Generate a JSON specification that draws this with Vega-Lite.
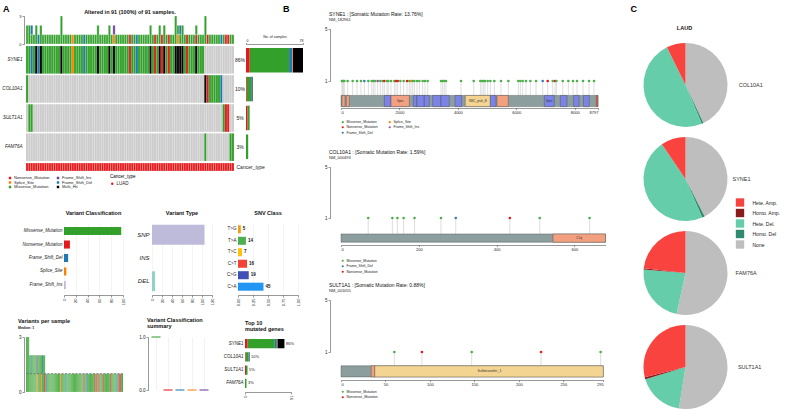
{
"$schema": "https://vega.github.io/schema/vega-lite/v6.json",
"padding": {"left": 1, "top": 5, "right": 0, "bottom": 0},
"config": {
  "font": "Liberation Sans",
  "view": {"stroke": null},
  "axis": {"labelFontSize": 4.5, "titleFontSize": 4.5, "titleFontWeight": "normal", "labelColor": "#222", "titleColor": "#222", "domainColor": "#333", "tickColor": "#333", "tickSize": 2, "domainWidth": 0.5, "tickWidth": 0.5, "labelPadding": 1, "grid": false},
  "title": {"fontSize": 5.5, "fontWeight": "bold", "color": "#111", "subtitleFontSize": 4, "subtitleColor": "#222", "subtitlePadding": 1},
  "legend": {"labelFontSize": 4.5, "titleFontSize": 4.5, "titleFontWeight": "normal", "labelColor": "#222", "symbolSize": 8, "symbolType": "square", "symbolStrokeWidth": 0, "rowPadding": 1, "columnPadding": 6, "labelOffset": 2, "padding": 0}
},
"datasets": {
  "cls": [{"c":"N","name":"Nonsense_Mutation","o":1},{"c":"M","name":"Missense_Mutation","o":2},{"c":"D","name":"Frame_Shift_Del","o":3},{"c":"S","name":"Splice_Site","o":4},{"c":"I","name":"Frame_Shift_Ins","o":5},{"c":"H","name":"Multi_Hit","o":6}],
  "cnvt": [{"t":"Hete. Amp.","o":1},{"t":"Homo. Amp.","o":2},{"t":"Hete. Del.","o":3},{"t":"Homo. Del","o":4},{"t":"None","o":5}],
  "samples": [
{"s":1,"SYNE1":"M","COL10A1":"M","M":2},
{"s":2,"SYNE1":"M","SULT1A1":"M","M":2},
{"s":3,"SYNE1":"D","SULT1A1":"M","D":1,"M":1},
{"s":4,"SYNE1":"M","M":1},
{"s":5,"SYNE1":"H","M":2},
{"s":6,"SYNE1":"D","D":1},
{"s":7,"SYNE1":"H","M":2},
{"s":8,"SYNE1":"M","M":1},
{"s":9,"SYNE1":"M","M":1},
{"s":10,"SYNE1":"M","M":1},
{"s":11,"SYNE1":"M","M":1},
{"s":12,"SYNE1":"M","M":1},
{"s":13,"SYNE1":"M","M":1},
{"s":14,"SYNE1":"M","M":1},
{"s":15,"SYNE1":"M","M":1},
{"s":16,"SYNE1":"H","M":3},
{"s":17,"SYNE1":"M","M":1},
{"s":18,"SYNE1":"M","M":1},
{"s":19,"SYNE1":"M","M":1},
{"s":20,"SYNE1":"M","M":1},
{"s":21,"SYNE1":"S","S":1},
{"s":22,"SYNE1":"M","M":1},
{"s":23,"SYNE1":"M","M":1},
{"s":24,"SYNE1":"M","M":1},
{"s":25,"SYNE1":"M","M":1},
{"s":26,"SYNE1":"D","D":1},
{"s":27,"SYNE1":"M","M":1},
{"s":28,"SYNE1":"M","M":1},
{"s":29,"SYNE1":"M","M":1},
{"s":30,"SYNE1":"M","M":1},
{"s":31,"SYNE1":"M","M":1},
{"s":32,"SYNE1":"H","M":2},
{"s":33,"SYNE1":"M","M":1},
{"s":34,"SYNE1":"M","M":1},
{"s":35,"SYNE1":"M","M":1},
{"s":36,"SYNE1":"M","M":1},
{"s":37,"SYNE1":"H","M":2},
{"s":38,"SYNE1":"M","M":1},
{"s":39,"SYNE1":"H","I":1,"S":1},
{"s":40,"SYNE1":"M","M":1},
{"s":41,"SYNE1":"M","M":1},
{"s":42,"SYNE1":"M","M":1},
{"s":43,"SYNE1":"M","M":1},
{"s":44,"SYNE1":"M","M":1},
{"s":45,"SYNE1":"M","M":1},
{"s":46,"SYNE1":"N","N":1},
{"s":47,"SYNE1":"M","M":1},
{"s":48,"SYNE1":"M","M":1},
{"s":49,"SYNE1":"D","D":1},
{"s":50,"SYNE1":"M","M":1},
{"s":51,"SYNE1":"M","M":1},
{"s":52,"SYNE1":"M","M":1},
{"s":53,"SYNE1":"M","M":1},
{"s":54,"SYNE1":"M","M":1},
{"s":55,"SYNE1":"H","M":2},
{"s":56,"SYNE1":"M","M":1},
{"s":57,"SYNE1":"N","N":1},
{"s":58,"SYNE1":"M","M":1},
{"s":59,"SYNE1":"H","M":2},
{"s":60,"SYNE1":"N","N":1},
{"s":61,"SYNE1":"H","M":2},
{"s":62,"SYNE1":"M","M":1},
{"s":63,"SYNE1":"N","N":1},
{"s":64,"SYNE1":"M","M":1},
{"s":65,"SYNE1":"M","M":1},
{"s":66,"SYNE1":"H","M":3},
{"s":67,"SYNE1":"H","M":1,"S":1},
{"s":68,"SYNE1":"H","M":1,"D":1},
{"s":69,"SYNE1":"H","M":2},
{"s":70,"SYNE1":"M","M":1},
{"s":71,"SYNE1":"N","N":1},
{"s":72,"SYNE1":"M","M":1},
{"s":73,"SYNE1":"M","M":1},
{"s":74,"SYNE1":"M","M":1},
{"s":75,"SYNE1":"H","M":1,"N":1},
{"s":76,"SYNE1":"M","M":1},
{"s":77,"SYNE1":"M","M":1},
{"s":78,"SYNE1":"M","M":1},
{"s":79,"COL10A1":"H","FAM76A":"M","M":3},
{"s":80,"COL10A1":"N","N":1},
{"s":81,"COL10A1":"M","M":1},
{"s":82,"COL10A1":"M","M":1},
{"s":83,"COL10A1":"M","M":1},
{"s":84,"COL10A1":"M","M":1},
{"s":85,"COL10A1":"M","M":1},
{"s":86,"COL10A1":"D","D":1},
{"s":87,"SULT1A1":"M","M":1},
{"s":88,"SULT1A1":"N","N":1},
{"s":89,"SULT1A1":"N","N":1},
{"s":90,"FAM76A":"M","M":1},
{"s":91,"FAM76A":"M","M":1}
  ],
  "genes": [{"gene":"SYNE1","n":78,"pct":"86%"},{"gene":"COL10A1","n":9,"pct":"10%"},{"gene":"SULT1A1","n":5,"pct":"5%"},{"gene":"FAM76A","n":3,"pct":"3%"}],
  "vc": [{"k":"Missense_Mutation","n":97},{"k":"Nonsense_Mutation","n":10},{"k":"Frame_Shift_Del","n":7},{"k":"Splice_Site","n":4},{"k":"Frame_Shift_Ins","n":3}],
  "vt": [{"k":"SNP","n":105},{"k":"INS","n":0.4},{"k":"DEL","n":6}],
  "snv": [{"k":"T>G","n":5,"f":0.047},{"k":"T>A","n":14,"f":0.132},{"k":"T>C","n":7,"f":0.066},{"k":"C>T","n":16,"f":0.151},{"k":"C>G","n":19,"f":0.179},{"k":"C>A","n":45,"f":0.425}],
  "vcs": [{"k":"Missense_Mutation","v":1},{"k":"Nonsense_Mutation","v":0},{"k":"Frame_Shift_Del","v":0},{"k":"Splice_Site","v":0},{"k":"Frame_Shift_Ins","v":0}],
  "l1": [
{"p":30,"c":"M","n":1},{"p":60,"c":"M","n":1},{"p":80,"c":"M","n":1},{"p":115,"c":"M","n":1},{"p":228,"c":"M","n":1},{"p":399,"c":"M","n":1},{"p":548,"c":"M","n":1},{"p":685,"c":"M","n":1},{"p":799,"c":"D","n":1},{"p":936,"c":"M","n":1},{"p":1050,"c":"M","n":1},{"p":1107,"c":"M","n":1},{"p":1164,"c":"M","n":1},{"p":1255,"c":"I","n":1},{"p":1346,"c":"M","n":1},{"p":1426,"c":"M","n":1},{"p":1483,"c":"N","n":1},{"p":1575,"c":"M","n":1},{"p":1620,"c":"M","n":1},{"p":1712,"c":"M","n":1},{"p":1826,"c":"M","n":1},{"p":1883,"c":"N","n":1},{"p":1940,"c":"N","n":1},{"p":2031,"c":"M","n":1},{"p":2145,"c":"M","n":1},{"p":2260,"c":"N","n":1},{"p":2339,"c":"M","n":1},{"p":2396,"c":"S","n":1},{"p":2453,"c":"M","n":1},{"p":2510,"c":"M","n":1},{"p":2602,"c":"M","n":1},{"p":2682,"c":"M","n":1},{"p":2796,"c":"M","n":1},{"p":2876,"c":"M","n":1},{"p":2967,"c":"M","n":1},{"p":3423,"c":"M","n":1},{"p":3480,"c":"M","n":1},{"p":3537,"c":"M","n":1},{"p":3595,"c":"M","n":1},{"p":4108,"c":"M","n":1},{"p":4542,"c":"M","n":1},{"p":4770,"c":"M","n":1},{"p":4827,"c":"M","n":1},{"p":4885,"c":"M","n":1},{"p":4930,"c":"M","n":1},{"p":5021,"c":"M","n":1},{"p":5112,"c":"M","n":1},{"p":5249,"c":"M","n":1},{"p":5477,"c":"M","n":1},{"p":5728,"c":"M","n":1},{"p":6070,"c":"M","n":1},{"p":6139,"c":"M","n":1},{"p":6219,"c":"M","n":1},{"p":6333,"c":"M","n":1},{"p":6481,"c":"M","n":1},{"p":6676,"c":"M","n":1},{"p":6904,"c":"D","n":1},{"p":7076,"c":"N","n":1},{"p":7247,"c":"M","n":1},{"p":7326,"c":"N","n":1},{"p":7372,"c":"M","n":1},{"p":7590,"c":"M","n":1},{"p":7782,"c":"M","n":1},{"p":7942,"c":"M","n":1},{"p":8079,"c":"M","n":1},{"p":8285,"c":"M","n":1},{"p":8490,"c":"M","n":1},{"p":8661,"c":"M","n":1}
  ],
  "l2": [{"p":70,"c":"M","n":1},{"p":132,"c":"M","n":1},{"p":145,"c":"M","n":1},{"p":161,"c":"M","n":1},{"p":189,"c":"M","n":1},{"p":257,"c":"M","n":1},{"p":295,"c":"D","n":1},{"p":434,"c":"N","n":1},{"p":511,"c":"M","n":1},{"p":639,"c":"M","n":1}],
  "l3": [{"p":60,"c":"M","n":1},{"p":91,"c":"N","n":1},{"p":147,"c":"M","n":1},{"p":225,"c":"N","n":1},{"p":292,"c":"M","n":1}],
  "d1": [
{"a":0,"b":8797,"t":"protein"},{"a":34,"b":137,"t":"CH"},{"a":183,"b":285,"t":"CH"},{"a":1483,"b":1712,"t":"Spectrin"},{"a":1712,"b":2340,"t":"CH","lab":"Spec","m":2030},{"a":2475,"b":2600,"t":"Spectrin"},{"a":2600,"b":2850,"t":"Spectrin"},{"a":2850,"b":3023,"t":"Spectrin"},{"a":3138,"b":3420,"t":"Spectrin"},{"a":3420,"b":3707,"t":"Spectrin"},{"a":3903,"b":4131,"t":"Spectrin"},{"a":4255,"b":5112,"t":"SMC_prok_B","lab":"SMC_prok_B","m":4680},{"a":5112,"b":5306,"t":"Spectrin"},{"a":5340,"b":5727,"t":"CH"},{"a":6960,"b":7302,"t":"Spectrin","lab":"Spec","m":7130},{"a":7508,"b":7737,"t":"Spectrin"},{"a":7960,"b":8150,"t":"Spectrin"},{"a":8300,"b":8500,"t":"Spectrin"},{"a":8740,"b":8797,"t":"KASH"}
  ],
  "d2": [{"a":0,"b":680,"t":"protein"},{"a":545,"b":680,"t":"C1q","lab":"C1q","m":612}],
  "d3": [{"a":0,"b":295,"t":"protein"},{"a":34,"b":38,"t":"CH"},{"a":38,"b":295,"t":"Sulfotransfer_1","lab":"Sulfotransfer_1","m":167}],
  "cnv": [
{"g":"COL10A1","t":"None","p":43},{"g":"COL10A1","t":"Homo. Del","p":0.7},{"g":"COL10A1","t":"Hete. Del.","p":49},{"g":"COL10A1","t":"Hete. Amp.","p":7.3},
{"g":"SYNE1","t":"None","p":42.5},{"g":"SYNE1","t":"Homo. Del","p":1},{"g":"SYNE1","t":"Hete. Del.","p":47},{"g":"SYNE1","t":"Hete. Amp.","p":9.5},
{"g":"FAM76A","t":"None","p":53.4},{"g":"FAM76A","t":"Hete. Del.","p":22.9},{"g":"FAM76A","t":"Homo. Amp.","p":0.5},{"g":"FAM76A","t":"Hete. Amp.","p":23.2},
{"g":"SULT1A1","t":"None","p":52.5},{"g":"SULT1A1","t":"Hete. Del.","p":17.8},{"g":"SULT1A1","t":"Homo. Amp.","p":0.8},{"g":"SULT1A1","t":"Hete. Amp.","p":28.9}
  ]
},
"spacing": 315,
"bounds": "flush",
"resolve": {"scale": {"color": "independent", "fill": "independent"}, "legend": {"color": "independent", "fill": "independent"}},
"hconcat": [
 {
  "spacing": -1, "bounds": "flush",
  "resolve": {"scale": {"color": "independent", "fill": "independent"}, "legend": {"color": "independent", "fill": "independent"}},
  "vconcat": [
  {"width": 1, "height": 1, "title": {"text": "A", "anchor": "start", "dx": -23, "offset": 1, "fontSize": 9, "color": "#000"}, "data": {"values": []}, "mark": "point"},
  {
  "spacing": 207, "bounds": "flush",
  "resolve": {"scale": {"color": "independent", "fill": "independent"}, "legend": {"color": "independent", "fill": "independent"}},
  "vconcat": [
   {
    "spacing": 209, "bounds": "flush",
    "resolve": {"scale": {"color": "independent", "fill": "independent"}, "legend": {"color": "independent", "fill": "independent"}},
    "hconcat": [
     {
      "spacing": 2, "bounds": "flush",
      "resolve": {"scale": {"color": "independent", "fill": "independent"}, "legend": {"color": "independent", "fill": "independent"}},
      "vconcat": [
       {
        "width": 208, "height": 28,
        "title": {"text": "Altered in 91 (100%) of 91 samples.", "offset": -1, "fontSize": 5.5},
        "data": {"name": "samples"},
        "transform": [
          {"fold": ["N","M","D","S","I"], "as": ["c","n"]},
          {"filter": {"field": "n", "gt": 0}},
          {"lookup": "c", "from": {"data": {"name": "cls"}, "key": "c", "fields": ["name"]}}
        ],
        "mark": {"type": "bar", "stroke": "white", "strokeWidth": 0.3},
        "encoding": {
          "x": {"field": "s", "type": "ordinal", "axis": null, "scale": {"paddingInner": 0, "paddingOuter": 0}},
          "y": {"field": "n", "aggregate": "sum", "type": "quantitative", "scale": {"domain": [0,3], "nice": false}, "axis": {"values": [0,3], "title": null, "labelFontSize": 4, "offset": 2, "tickSize": 2}},
          "color": {"field": "name", "type": "nominal", "scale": {"domain": ["Frame_Shift_Del","Frame_Shift_Ins","Missense_Mutation","Nonsense_Mutation","Splice_Site"], "range": ["#1F78B4","#6A3D9A","#33A02C","#E31A1C","#FF7F00"]}, "legend": null}
        }
       },
       {
        "width": 208, "height": 115,
        "data": {"name": "samples"},
        "transform": [
          {"fold": ["SYNE1","COL10A1","SULT1A1","FAM76A"], "as": ["gene","c"]},
          {"lookup": "c", "from": {"data": {"name": "cls"}, "key": "c", "fields": ["name"]}, "default": "None"}
        ],
        "mark": {"type": "rect", "stroke": "white", "strokeWidth": 0.12},
        "encoding": {
          "x": {"field": "s", "type": "ordinal", "axis": null},
          "y": {"field": "gene", "type": "nominal", "sort": ["SYNE1","COL10A1","SULT1A1","FAM76A"], "scale": {"paddingInner": 0.05, "paddingOuter": 0}, "axis": {"title": null, "ticks": false, "tickSize": 0, "domain": false, "labelFontStyle": "italic", "labelFontSize": 4.6, "labelPadding": 4}},
          "color": {"field": "name", "type": "nominal", "scale": {"domain": ["Nonsense_Mutation","Splice_Site","Missense_Mutation","Frame_Shift_Ins","Frame_Shift_Del","Multi_Hit","None"], "range": ["#E31A1C","#FF7F00","#33A02C","#6A3D9A","#1F78B4","#000000","#CCCCCC"]}, "legend": {"values": ["Nonsense_Mutation","Splice_Site","Missense_Mutation","Frame_Shift_Ins","Frame_Shift_Del","Multi_Hit"], "title": null, "orient": "none", "legendX": -18, "legendY": 130, "columns": 2, "symbolSize": 6, "labelFontSize": 4, "rowPadding": 0.5, "columnPadding": 6}}
        }
       },
       {
        "width": 208, "height": 8,
        "data": {"name": "samples"},
        "mark": {"type": "rect", "stroke": "white", "strokeWidth": 0.2},
        "encoding": {
          "x": {"field": "s", "type": "ordinal", "axis": null},
          "y": {"datum": "Cancer_type", "type": "nominal", "axis": {"orient": "right", "title": null, "ticks": false, "tickSize": 0, "domain": false, "labelFontSize": 5, "labelPadding": 2}},
          "color": {"datum": "LUAD", "type": "nominal", "scale": {"domain": ["LUAD"], "range": ["#E31A1C"]}, "legend": {"title": "Cancer_type", "orient": "none", "legendX": 84, "legendY": 11, "symbolType": "circle", "symbolSize": 6, "titleFontSize": 4.5, "labelFontSize": 4.5, "titlePadding": 3}}
        }
       }
      ]
     },
     {
      "spacing": 2, "bounds": "flush",
      "resolve": {"scale": {"color": "independent", "fill": "independent"}, "legend": {"color": "independent", "fill": "independent"}},
      "vconcat": [
       {"width": 1, "height": 28, "data": {"values": []}, "mark": "point"},
       {
        "spacing": 1, "bounds": "flush",
        "resolve": {"scale": {"color": "independent", "fill": "independent"}, "legend": {"color": "independent", "fill": "independent"}},
        "hconcat": [
         {
          "width": 10, "height": 115,
          "data": {"name": "genes"},
          "mark": {"type": "text", "fontSize": 5, "color": "#222"},
          "encoding": {
            "y": {"field": "gene", "type": "nominal", "sort": ["SYNE1","COL10A1","SULT1A1","FAM76A"], "axis": null},
            "text": {"field": "pct"}
          }
         },
         {
          "width": 57, "height": 115,
          "data": {"name": "samples"},
          "transform": [
            {"fold": ["SYNE1","COL10A1","SULT1A1","FAM76A"], "as": ["gene","c"]},
            {"lookup": "c", "from": {"data": {"name": "cls"}, "key": "c", "fields": ["name","o"]}},
            {"filter": "datum.name"}
          ],
          "mark": {"type": "bar"},
          "encoding": {
            "y": {"field": "gene", "type": "nominal", "sort": ["SYNE1","COL10A1","SULT1A1","FAM76A"], "axis": null, "scale": {"paddingInner": 0.15, "paddingOuter": 0.07}},
            "x": {"aggregate": "count", "type": "quantitative", "scale": {"domain": [0,78], "nice": false}, "axis": {"orient": "top", "values": [0,78], "title": "No. of samples", "titleFontSize": 3.5, "labelFontSize": 3.5, "titlePadding": 0, "offset": 2, "tickSize": 1.5, "labelPadding": 0.5}},
            "color": {"field": "name", "type": "nominal", "scale": {"domain": ["Nonsense_Mutation","Missense_Mutation","Frame_Shift_Del","Splice_Site","Frame_Shift_Ins","Multi_Hit"], "range": ["#E31A1C","#33A02C","#1F78B4","#FF7F00","#6A3D9A","#000000"]}, "legend": null},
            "order": {"field": "o", "type": "quantitative"}
          }
         }
        ]
       }
      ]
     }
    ]
   },
   {
    "spacing": 114, "bounds": "flush",
    "resolve": {"scale": {"color": "independent", "fill": "independent"}, "legend": {"color": "independent", "fill": "independent"}},
    "vconcat": [
     {
      "spacing": 29, "bounds": "flush",
      "resolve": {"scale": {"color": "independent", "fill": "independent"}, "legend": {"color": "independent", "fill": "independent"}},
      "hconcat": [
       {"width": 9, "height": 1, "data": {"values": []}, "mark": "point"},
       {
        "width": 59, "height": 70,
        "title": {"text": "Variant Classification", "offset": 7},
        "data": {"name": "vc"},
        "mark": {"type": "bar"},
        "encoding": {
          "y": {"field": "k", "type": "nominal", "sort": null, "scale": {"paddingInner": 0.4, "paddingOuter": 0.3}, "axis": {"title": null, "ticks": false, "domain": false, "labelFontStyle": "italic", "labelFontSize": 4.5, "labelPadding": 2}},
          "x": {"field": "n", "type": "quantitative", "scale": {"domain": [0,100], "nice": false}, "axis": {"values": [0,20,40,60,80,100], "title": null, "labelAngle": -90, "labelFontSize": 4, "grid": true, "gridColor": "#EBEBEB", "gridWidth": 0.5, "offset": 2}},
          "color": {"field": "k", "type": "nominal", "scale": {"domain": ["Missense_Mutation","Nonsense_Mutation","Frame_Shift_Del","Splice_Site","Frame_Shift_Ins"], "range": ["#33A02C","#E31A1C","#1F78B4","#FF7F00","#C9B6DB"]}, "legend": null}
        }
       },
       {
        "spacing": 26, "bounds": "flush",
        "resolve": {"scale": {"color": "independent", "fill": "independent"}, "legend": {"color": "independent", "fill": "independent"}},
        "hconcat": [
         {
          "width": 60, "height": 70,
          "title": {"text": "Variant Type", "offset": 7},
          "data": {"name": "vt"},
          "mark": {"type": "bar"},
          "encoding": {
            "y": {"field": "k", "type": "nominal", "sort": null, "scale": {"paddingInner": 0.15, "paddingOuter": 0.08}, "axis": {"title": null, "ticks": false, "domain": false, "labelFontStyle": "italic", "labelFontSize": 6, "labelPadding": 3}},
            "x": {"field": "n", "type": "quantitative", "scale": {"domain": [0,120], "nice": false}, "axis": {"values": [0,20,40,60,80,100,120], "title": null, "labelAngle": -90, "labelFontSize": 4, "grid": true, "gridColor": "#EBEBEB", "gridWidth": 0.5, "offset": 2}},
            "color": {"field": "k", "type": "nominal", "scale": {"domain": ["SNP","INS","DEL"], "range": ["#BEBADA","#FFFFB3","#8DD3C7"]}, "legend": null}
          }
         },
         {
          "width": 60, "height": 70,
          "title": {"text": "SNV Class", "offset": 7},
          "data": {"name": "snv"},
          "encoding": {
            "y": {"field": "k", "type": "nominal", "sort": null, "scale": {"paddingInner": 0.3, "paddingOuter": 0.2}, "axis": {"title": null, "ticks": false, "domain": false, "labelFontSize": 4.5, "labelPadding": 2}},
            "x": {"field": "f", "type": "quantitative", "scale": {"domain": [0,1], "nice": false}, "axis": {"values": [0,0.25,0.5,0.75,1], "format": ".2f", "title": null, "labelAngle": -90, "labelFontSize": 4, "grid": true, "gridColor": "#EBEBEB", "gridWidth": 0.5, "offset": 2}}
          },
          "layer": [
            {"mark": {"type": "bar"}, "encoding": {"color": {"field": "k", "type": "nominal", "scale": {"domain": ["T>G","T>A","T>C","C>T","C>G","C>A"], "range": ["#F39C12","#4CAF50","#FFC107","#F44336","#3F51B5","#2196F3"]}, "legend": null}}},
            {"mark": {"type": "text", "align": "left", "dx": 2, "fontSize": 4.5, "fontWeight": "bold", "color": "#111"}, "encoding": {"text": {"field": "n"}}}
          ]
         }
        ]
       }
      ]
     },
     {
      "spacing": 27, "bounds": "flush",
      "resolve": {"scale": {"color": "independent", "fill": "independent"}, "legend": {"color": "independent", "fill": "independent"}},
      "hconcat": [
       {
        "width": 97, "height": 55,
        "title": {"text": "Variants per sample", "subtitle": "Median: 1", "anchor": "start", "frame": "group", "dx": -8, "offset": 5, "subtitleFontSize": 3.5, "subtitleFontWeight": "bold"},
        "layer": [
          {
           "data": {"name": "samples"},
           "transform": [
             {"fold": ["N","M","D","S","I"], "as": ["c","n"]},
             {"filter": {"field": "n", "gt": 0}},
             {"lookup": "c", "from": {"data": {"name": "cls"}, "key": "c", "fields": ["name"]}}
           ],
           "mark": {"type": "bar", "stroke": "white", "strokeWidth": 0.15},
           "encoding": {
             "x": {"field": "s", "type": "ordinal", "sort": "-y", "axis": null, "scale": {"paddingInner": 0.05, "paddingOuter": 0}},
             "y": {"field": "n", "aggregate": "sum", "type": "quantitative", "scale": {"domain": [0,3], "nice": false}, "axis": {"values": [0,1,2,3], "title": null, "offset": 2, "labelFontSize": 4.5}},
             "color": {"field": "name", "type": "nominal", "scale": {"domain": ["Frame_Shift_Del","Frame_Shift_Ins","Missense_Mutation","Nonsense_Mutation","Splice_Site"], "range": ["#1F78B4","#6A3D9A","#33A02C","#E31A1C","#FF7F00"]}, "legend": null}
           }
          },
          {
           "data": {"values": [{}]},
           "mark": {"type": "rule", "strokeDash": [2,1.5], "color": "#555", "strokeWidth": 0.6},
           "encoding": {"y": {"datum": 1, "type": "quantitative"}}
          }
        ]
       },
       {
        "spacing": 35, "bounds": "flush",
        "resolve": {"scale": {"color": "independent", "fill": "independent"}, "legend": {"color": "independent", "fill": "independent"}},
        "hconcat": [
         {
          "width": 60, "height": 53,
          "title": {"text": ["Variant Classification","summary"], "anchor": "start", "frame": "group", "dx": -3, "offset": 5, "lineHeight": 6},
          "data": {"name": "vcs"},
          "mark": {"type": "tick", "thickness": 1.5, "size": 9},
          "encoding": {
            "x": {"field": "k", "type": "nominal", "sort": null, "axis": {"title": null, "labels": false, "ticks": false, "domain": false, "grid": true, "gridColor": "#E6E6E6", "gridWidth": 0.5}},
            "y": {"field": "v", "type": "quantitative", "scale": {"domain": [0,1], "nice": false}, "axis": {"values": [0,1], "title": null, "offset": 2, "labelFontSize": 4.5}},
            "color": {"field": "k", "type": "nominal", "scale": {"domain": ["Missense_Mutation","Nonsense_Mutation","Frame_Shift_Del","Splice_Site","Frame_Shift_Ins"], "range": ["#33A02C","#E31A1C","#1F78B4","#FF7F00","#6A3D9A"]}, "legend": null}
          }
         },
         {
          "width": 46, "height": 53,
          "title": {"text": ["Top 10","mutated genes"], "anchor": "start", "frame": "group", "offset": 5, "lineHeight": 6},
          "layer": [
            {
             "data": {"name": "samples"},
             "transform": [
               {"fold": ["SYNE1","COL10A1","SULT1A1","FAM76A"], "as": ["gene","c"]},
               {"lookup": "c", "from": {"data": {"name": "cls"}, "key": "c", "fields": ["name","o"]}},
               {"filter": "datum.name"}
             ],
             "mark": {"type": "bar"},
             "encoding": {
               "y": {"field": "gene", "type": "nominal", "sort": ["SYNE1","COL10A1","SULT1A1","FAM76A"], "scale": {"paddingInner": 0.3, "paddingOuter": 0.15}, "axis": {"title": null, "ticks": false, "domain": false, "labelFontStyle": "italic", "labelFontSize": 4.5, "labelPadding": 2}},
               "x": {"aggregate": "count", "type": "quantitative", "title": null, "scale": {"domain": [0,91], "nice": false}, "axis": {"values": [0,23,45,68,91], "title": null, "labelAngle": -90, "labelFontSize": 4, "offset": 2}},
               "color": {"field": "name", "type": "nominal", "scale": {"domain": ["Nonsense_Mutation","Missense_Mutation","Frame_Shift_Del","Splice_Site","Frame_Shift_Ins","Multi_Hit"], "range": ["#E31A1C","#33A02C","#1F78B4","#FF7F00","#6A3D9A","#000000"]}, "legend": null},
               "order": {"field": "o", "type": "quantitative"}
             }
            },
            {
             "data": {"name": "genes"},
             "mark": {"type": "text", "align": "left", "dx": 1.5, "fontSize": 4, "color": "#222"},
             "encoding": {
               "y": {"field": "gene", "type": "nominal", "sort": ["SYNE1","COL10A1","SULT1A1","FAM76A"], "title": null},
               "x": {"field": "n", "type": "quantitative", "title": null},
               "text": {"field": "pct"}
             }
            }
          ]
         }
        ]
       }
      ]
     }
    ]
   }
  ]
  }
  ]
 },
 {
  "spacing": 302.5, "bounds": "flush",
  "resolve": {"scale": {"color": "independent", "fill": "independent"}, "legend": {"color": "independent", "fill": "independent"}},
  "hconcat": [
   {
    "spacing": 2, "bounds": "flush",
    "resolve": {"scale": {"color": "independent", "fill": "independent"}, "legend": {"color": "independent", "fill": "independent"}},
    "vconcat": [
     {"width": 1, "height": 12, "title": {"text": "B", "anchor": "start", "dx": -58, "offset": 1, "fontSize": 9, "color": "#000"}, "data": {"values": []}, "mark": "point"},
     {
      "spacing": 86, "bounds": "flush",
      "resolve": {"scale": {"color": "independent", "fill": "independent"}, "legend": {"color": "independent", "fill": "independent"}},
      "vconcat": [
       {
        "width": 257, "height": 52,
        "title": {"text": "SYNE1 : [Somatic Mutation Rate: 13.76%]", "subtitle": "NM_182961", "anchor": "start", "frame": "group", "dx": -12, "fontSize": 5, "fontWeight": "normal", "subtitleFontSize": 4, "offset": 4},
        "layer": [
          {"data": {"name": "l1"}, "mark": {"type": "rule", "color": "#D0D0D0", "strokeWidth": 0.7},
           "encoding": {
             "x": {"field": "p", "type": "quantitative", "title": null, "scale": {"domain": [0,8797], "nice": false, "zero": false}, "axis": {"values": [0,2000,4000,6000,8000,8797], "format": "d", "offset": 27, "labelFontSize": 4, "tickSize": 1.5}},
             "y": {"field": "n", "type": "quantitative", "title": null, "scale": {"domain": [1,5], "nice": false, "zero": false}, "axis": {"values": [1,5], "offset": 11, "labelFontSize": 4.5, "tickSize": 2}},
             "y2": {"datum": -0.11}
           }},
          {"data": {"name": "d1"}, "mark": {"type": "rect", "stroke": "#4A4A4A", "strokeWidth": 0.4},
           "encoding": {
             "x": {"field": "a", "type": "quantitative", "title": null, "scale": {"domain": [0,8797], "nice": false, "zero": false}},
             "x2": {"field": "b"},
             "y": {"datum": -0.11, "type": "quantitative", "title": null, "scale": {"domain": [1,5], "nice": false, "zero": false}},
             "y2": {"datum": -0.97},
             "fill": {"field": "t", "type": "nominal", "scale": {"domain": ["protein","Spectrin","CH","SMC_prok_B","KASH"], "range": ["#8C9E9E","#7B83E6","#F2A07F","#F4D491","#E0604A"]}, "legend": null}
           }},
          {"data": {"name": "d1"}, "transform": [{"filter": "datum.lab"}], "mark": {"type": "text", "fontSize": 3, "color": "#333"},
           "encoding": {
             "x": {"field": "m", "type": "quantitative", "title": null, "scale": {"domain": [0,8797], "nice": false, "zero": false}},
             "y": {"datum": -0.54, "type": "quantitative", "title": null, "scale": {"domain": [1,5], "nice": false, "zero": false}},
             "text": {"field": "lab"}
           }},
          {"data": {"name": "l1"}, "transform": [{"lookup": "c", "from": {"data": {"name": "cls"}, "key": "c", "fields": ["name"]}}], "mark": {"type": "point", "filled": true, "size": 7, "opacity": 1},
           "encoding": {
             "x": {"field": "p", "type": "quantitative", "title": null, "scale": {"domain": [0,8797], "nice": false, "zero": false}},
             "y": {"field": "n", "type": "quantitative", "title": null, "scale": {"domain": [1,5], "nice": false, "zero": false}},
             "color": {"field": "name", "type": "nominal", "scale": {"domain": ["Missense_Mutation","Nonsense_Mutation","Frame_Shift_Del","Splice_Site","Frame_Shift_Ins"], "range": ["#4DAF4A","#E41A1C","#377EB8","#FF7F00","#984EA3"]}, "legend": {"title": null, "orient": "none", "legendX": 0, "legendY": 91, "columns": 2, "symbolType": "circle", "symbolSize": 5, "labelFontSize": 3.5, "rowPadding": 0.5, "columnPadding": 10}}
           }}
        ]
       },
       {
        "spacing": 82, "bounds": "flush",
        "resolve": {"scale": {"color": "independent", "fill": "independent"}, "legend": {"color": "independent", "fill": "independent"}},
        "vconcat": [
         {
          "width": 264.5, "height": 51,
          "title": {"text": "COL10A1 : [Somatic Mutation Rate: 1.59%]", "subtitle": "NM_000493", "anchor": "start", "frame": "group", "dx": -12, "fontSize": 5, "fontWeight": "normal", "subtitleFontSize": 4, "offset": 4},
          "layer": [
            {"data": {"name": "l2"}, "mark": {"type": "rule", "color": "#D0D0D0", "strokeWidth": 0.7},
             "encoding": {
               "x": {"field": "p", "type": "quantitative", "title": null, "scale": {"domain": [0,680], "nice": false, "zero": false}, "axis": {"values": [0,100,200,300,400,500,600,680], "format": "d", "offset": 27, "labelFontSize": 4, "tickSize": 1.5}},
               "y": {"field": "n", "type": "quantitative", "title": null, "scale": {"domain": [1,5], "nice": false, "zero": false}, "axis": {"values": [1,5], "offset": 11, "labelFontSize": 4.5, "tickSize": 2}},
               "y2": {"datum": -0.25}
             }},
            {"data": {"name": "d2"}, "mark": {"type": "rect", "stroke": "#4A4A4A", "strokeWidth": 0.4},
             "encoding": {
               "x": {"field": "a", "type": "quantitative", "title": null, "scale": {"domain": [0,680], "nice": false, "zero": false}},
               "x2": {"field": "b"},
               "y": {"datum": -0.25, "type": "quantitative", "title": null, "scale": {"domain": [1,5], "nice": false, "zero": false}},
               "y2": {"datum": -0.9},
               "fill": {"field": "t", "type": "nominal", "scale": {"domain": ["protein","C1q"], "range": ["#8C9E9E","#F2A07F"]}, "legend": null}
             }},
            {"data": {"name": "d2"}, "transform": [{"filter": "datum.lab"}], "mark": {"type": "text", "fontSize": 3, "color": "#333"},
             "encoding": {
               "x": {"field": "m", "type": "quantitative", "title": null, "scale": {"domain": [0,680], "nice": false, "zero": false}},
               "y": {"datum": -0.57, "type": "quantitative", "title": null, "scale": {"domain": [1,5], "nice": false, "zero": false}},
               "text": {"field": "lab"}
             }},
            {"data": {"name": "l2"}, "transform": [{"lookup": "c", "from": {"data": {"name": "cls"}, "key": "c", "fields": ["name"]}}], "mark": {"type": "point", "filled": true, "size": 7, "opacity": 1},
             "encoding": {
               "x": {"field": "p", "type": "quantitative", "title": null, "scale": {"domain": [0,680], "nice": false, "zero": false}},
               "y": {"field": "n", "type": "quantitative", "title": null, "scale": {"domain": [1,5], "nice": false, "zero": false}},
               "color": {"field": "name", "type": "nominal", "scale": {"domain": ["Missense_Mutation","Frame_Shift_Del","Nonsense_Mutation"], "range": ["#4DAF4A","#377EB8","#E41A1C"]}, "legend": {"title": null, "orient": "none", "legendX": 0, "legendY": 92, "symbolType": "circle", "symbolSize": 5, "labelFontSize": 3.5, "rowPadding": 0.5}}
             }}
          ]
         },
         {
          "width": 262.3, "height": 52,
          "title": {"text": "SULT1A1 : [Somatic Mutation Rate: 0.88%]", "subtitle": "NM_001055", "anchor": "start", "frame": "group", "dx": -12, "fontSize": 5, "fontWeight": "normal", "subtitleFontSize": 4, "offset": 4},
          "layer": [
            {"data": {"name": "l3"}, "mark": {"type": "rule", "color": "#D0D0D0", "strokeWidth": 0.7},
             "encoding": {
               "x": {"field": "p", "type": "quantitative", "title": null, "scale": {"domain": [0,295], "nice": false, "zero": false}, "axis": {"values": [0,50,100,150,200,250,295], "format": "d", "offset": 28, "labelFontSize": 4, "tickSize": 1.5}},
               "y": {"field": "n", "type": "quantitative", "title": null, "scale": {"domain": [1,5], "nice": false, "zero": false}, "axis": {"values": [1,5], "offset": 11, "labelFontSize": 4.5, "tickSize": 2}},
               "y2": {"datum": -0.06}
             }},
            {"data": {"name": "d3"}, "mark": {"type": "rect", "stroke": "#4A4A4A", "strokeWidth": 0.4},
             "encoding": {
               "x": {"field": "a", "type": "quantitative", "title": null, "scale": {"domain": [0,295], "nice": false, "zero": false}},
               "x2": {"field": "b"},
               "y": {"datum": -0.06, "type": "quantitative", "title": null, "scale": {"domain": [1,5], "nice": false, "zero": false}},
               "y2": {"datum": -0.92},
               "fill": {"field": "t", "type": "nominal", "scale": {"domain": ["protein","CH","Sulfotransfer_1"], "range": ["#8C9E9E","#F2A07F","#F4D491"]}, "legend": null}
             }},
            {"data": {"name": "d3"}, "transform": [{"filter": "datum.lab"}], "mark": {"type": "text", "fontSize": 3.5, "color": "#333"},
             "encoding": {
               "x": {"field": "m", "type": "quantitative", "title": null, "scale": {"domain": [0,295], "nice": false, "zero": false}},
               "y": {"datum": -0.49, "type": "quantitative", "title": null, "scale": {"domain": [1,5], "nice": false, "zero": false}},
               "text": {"field": "lab"}
             }},
            {"data": {"name": "l3"}, "transform": [{"lookup": "c", "from": {"data": {"name": "cls"}, "key": "c", "fields": ["name"]}}], "mark": {"type": "point", "filled": true, "size": 7, "opacity": 1},
             "encoding": {
               "x": {"field": "p", "type": "quantitative", "title": null, "scale": {"domain": [0,295], "nice": false, "zero": false}},
               "y": {"field": "n", "type": "quantitative", "title": null, "scale": {"domain": [1,5], "nice": false, "zero": false}},
               "color": {"field": "name", "type": "nominal", "scale": {"domain": ["Missense_Mutation","Nonsense_Mutation"], "range": ["#4DAF4A","#E41A1C"]}, "legend": {"title": null, "orient": "none", "legendX": 0, "legendY": 90, "symbolType": "circle", "symbolSize": 5, "labelFontSize": 3.5, "rowPadding": 0.5}}
             }}
          ]
         }
        ]
       }
      ]
     }
    ]
   },
   {
    "spacing": 2, "bounds": "flush",
    "resolve": {"scale": {"color": "independent", "fill": "independent"}, "legend": {"color": "independent", "fill": "independent"}},
    "vconcat": [
     {"width": 1, "height": 26, "title": {"text": "C", "anchor": "start", "dx": -13, "offset": 1, "fontSize": 9, "color": "#000"}, "data": {"values": []}, "mark": "point"},
     {
      "data": {"name": "cnv"},
      "title": {"text": "LAUD", "anchor": "middle", "frame": "group", "dx": 41, "fontSize": 5.5, "offset": 12},
      "spacing": 10,
      "bounds": "flush",
      "facet": {"row": {"field": "g", "type": "nominal", "sort": ["COL10A1","SYNE1","FAM76A","SULT1A1"], "title": null, "header": {"labelOrient": "right", "labelAngle": 0, "labelAlign": "left", "labelBaseline": "middle", "labelFontSize": 5.5, "labelPadding": -13, "labelColor": "#333"}}},
      "spec": {
        "width": 84, "height": 84,
        "transform": [{"lookup": "t", "from": {"data": {"name": "cnvt"}, "key": "t", "fields": ["o"]}}],
        "mark": {"type": "arc"},
        "encoding": {
          "theta": {"field": "p", "type": "quantitative", "stack": true, "scale": {"reverse": true}},
          "order": {"field": "o", "type": "quantitative"},
          "color": {"field": "t", "type": "nominal", "scale": {"domain": ["Hete. Amp.","Homo. Amp.","Hete. Del.","Homo. Del","None"], "range": ["#F8433F","#8B1A1A","#66CDAA","#2E8B70","#BEBEBE"]}, "legend": {"title": null, "orient": "none", "legendX": 92, "legendY": 155, "symbolType": "square", "symbolSize": 70, "labelFontSize": 5, "rowPadding": 1.5, "labelOffset": 8}}
        }
      }
     }
    ]
   }
  ]
 }
]
}
